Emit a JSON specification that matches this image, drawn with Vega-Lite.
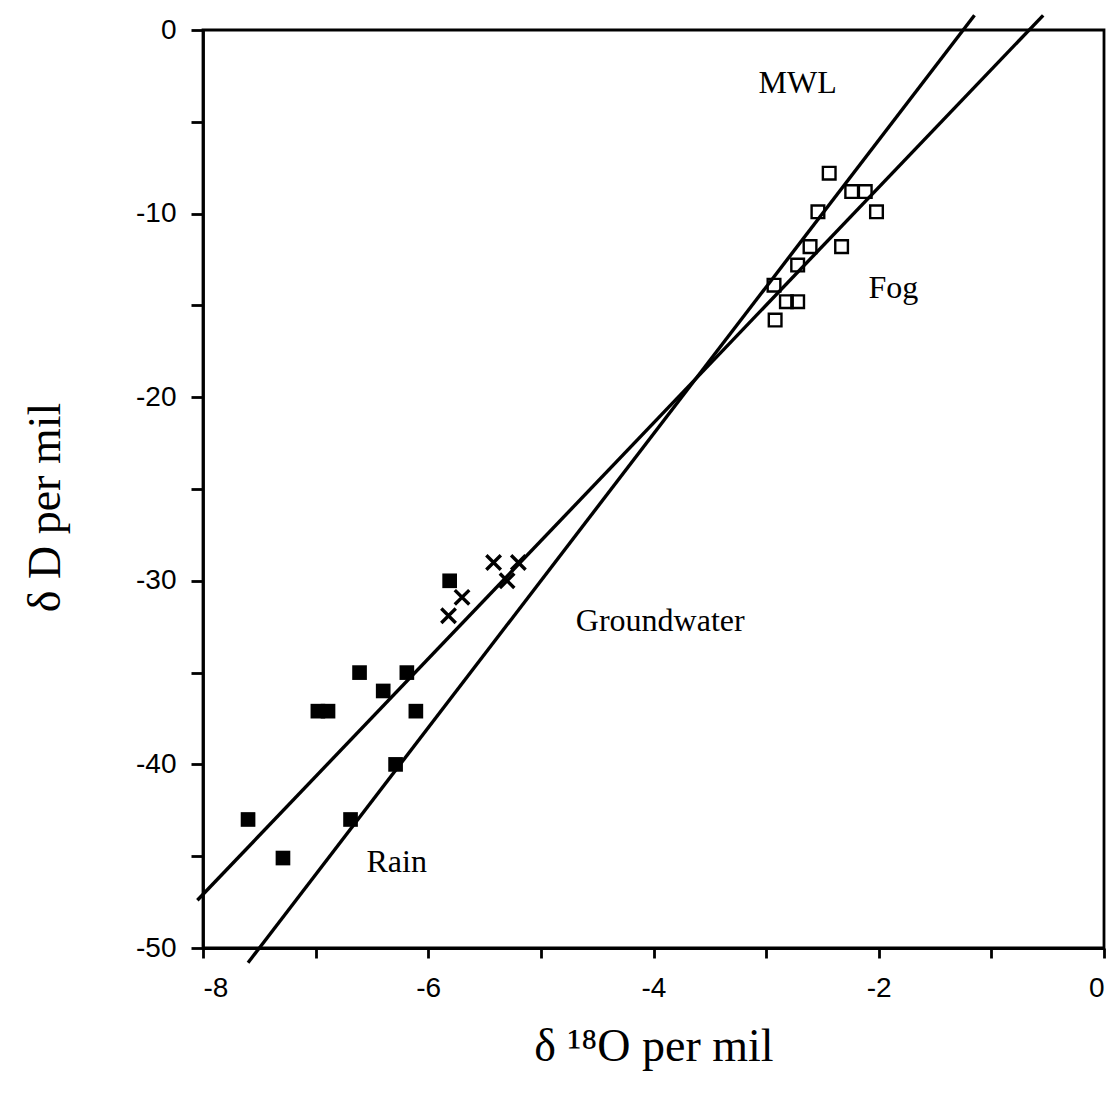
{
  "$schema": "https://vega.github.io/schema/vega-lite/v6.json",
  "autosize": "none",
  "width": 901,
  "height": 918,
  "padding": {"left": 203, "top": 30, "right": 7, "bottom": 149},
  "background": "white",
  "config": {
    "view": {"stroke": "black", "strokeWidth": 2.8},
    "axis": {
      "domainColor": "black",
      "domainWidth": 2.8,
      "tickColor": "black",
      "tickWidth": 2.8,
      "grid": false,
      "labelColor": "black",
      "labelFont": "Liberation Sans",
      "labelFontSize": 28,
      "titleColor": "black",
      "titleFont": "Liberation Serif",
      "titleFontSize": 46,
      "titleFontWeight": "normal"
    }
  },
  "datasets": {
    "samples": [
      {"d18O": -2.44, "dD": -7.8, "group": "Fog"},
      {"d18O": -2.24, "dD": -8.8, "group": "Fog"},
      {"d18O": -2.12, "dD": -8.8, "group": "Fog"},
      {"d18O": -2.02, "dD": -9.9, "group": "Fog"},
      {"d18O": -2.54, "dD": -9.9, "group": "Fog"},
      {"d18O": -2.33, "dD": -11.8, "group": "Fog"},
      {"d18O": -2.61, "dD": -11.8, "group": "Fog"},
      {"d18O": -2.72, "dD": -12.8, "group": "Fog"},
      {"d18O": -2.93, "dD": -13.9, "group": "Fog"},
      {"d18O": -2.82, "dD": -14.8, "group": "Fog"},
      {"d18O": -2.72, "dD": -14.8, "group": "Fog"},
      {"d18O": -2.92, "dD": -15.8, "group": "Fog"},
      {"d18O": -5.81, "dD": -30.0, "group": "Rain"},
      {"d18O": -6.61, "dD": -35.0, "group": "Rain"},
      {"d18O": -6.19, "dD": -35.0, "group": "Rain"},
      {"d18O": -6.40, "dD": -36.0, "group": "Rain"},
      {"d18O": -6.98, "dD": -37.1, "group": "Rain"},
      {"d18O": -6.89, "dD": -37.1, "group": "Rain"},
      {"d18O": -6.11, "dD": -37.1, "group": "Rain"},
      {"d18O": -6.29, "dD": -40.0, "group": "Rain"},
      {"d18O": -7.60, "dD": -43.0, "group": "Rain"},
      {"d18O": -6.69, "dD": -43.0, "group": "Rain"},
      {"d18O": -7.29, "dD": -45.1, "group": "Rain"},
      {"d18O": -5.42, "dD": -29.0, "group": "Groundwater"},
      {"d18O": -5.20, "dD": -29.0, "group": "Groundwater"},
      {"d18O": -5.30, "dD": -30.0, "group": "Groundwater"},
      {"d18O": -5.70, "dD": -30.9, "group": "Groundwater"},
      {"d18O": -5.82, "dD": -31.9, "group": "Groundwater"}
    ],
    "lines": [
      {"line": "MWL", "d18O": -7.6, "dD": -50.8},
      {"line": "MWL", "d18O": -1.15, "dD": 0.8},
      {"line": "Local", "d18O": -8.05, "dD": -47.4},
      {"line": "Local", "d18O": -0.54, "dD": 0.8}
    ],
    "labels": [
      {"text": "MWL", "d18O": -2.72, "dD": -2.9},
      {"text": "Fog", "d18O": -1.87, "dD": -14.05},
      {"text": "Groundwater", "d18O": -3.94, "dD": -32.2},
      {"text": "Rain", "d18O": -6.28, "dD": -45.3}
    ]
  },
  "encoding": {
    "x": {
      "field": "d18O",
      "type": "quantitative",
      "scale": {"domain": [-8, 0], "nice": false, "zero": false},
      "axis": {
        "title": "δ ¹⁸O per mil",
        "values": [-8, -7, -6, -5, -4, -3, -2, -1, 0],
        "labelExpr": "datum.value % 2 === 0 ? toString(datum.value) : ''",
        "tickSize": 10,
        "labelPadding": 16,
        "titlePadding": 22
      }
    },
    "y": {
      "field": "dD",
      "type": "quantitative",
      "scale": {"domain": [-50, 0], "nice": false, "zero": false},
      "axis": {
        "title": "δ D per mil",
        "values": [-50, -45, -40, -35, -30, -25, -20, -15, -10, -5, 0],
        "labelExpr": "datum.value % 10 === 0 ? toString(datum.value) : ''",
        "tickSize": 12,
        "labelPadding": 15,
        "titlePadding": 66,
        "titleY": 477
      }
    }
  },
  "layer": [
    {
      "data": {"name": "lines"},
      "mark": {"type": "line", "color": "black", "strokeWidth": 3.4, "clip": false},
      "encoding": {"detail": {"field": "line"}}
    },
    {
      "data": {"name": "samples"},
      "transform": [{"filter": "datum.group === 'Fog'"}],
      "mark": {"type": "point", "shape": "square", "filled": false, "stroke": "black", "strokeWidth": 2.4, "size": 160, "opacity": 1}
    },
    {
      "data": {"name": "samples"},
      "transform": [{"filter": "datum.group === 'Rain'"}],
      "mark": {"type": "point", "shape": "square", "filled": true, "fill": "black", "size": 215, "opacity": 1}
    },
    {
      "data": {"name": "samples"},
      "transform": [{"filter": "datum.group === 'Groundwater'"}],
      "mark": {"type": "point", "shape": "M-1,-1L1,1M1,-1L-1,1", "filled": false, "stroke": "black", "strokeWidth": 3.4, "size": 210, "opacity": 1}
    },
    {
      "data": {"name": "labels"},
      "mark": {"type": "text", "font": "Liberation Serif", "fontSize": 32, "color": "black", "align": "center", "baseline": "middle"},
      "encoding": {"text": {"field": "text"}}
    }
  ]
}
